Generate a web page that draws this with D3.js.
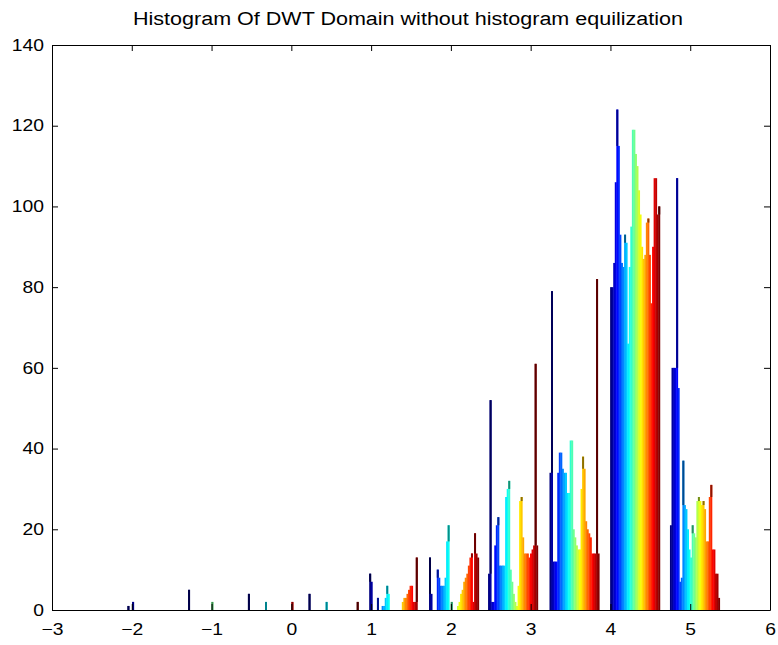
<!DOCTYPE html>
<html>
<head>
<meta charset="utf-8">
<script src="https://cdn.jsdelivr.net/npm/d3@7"></script>
<style>
  body { margin: 0; background: #fff; }
  svg text { font-family: "Liberation Sans", Arial, sans-serif; fill: #000; }
</style>
</head>
<body>
<svg id="chart" width="778" height="645"></svg>
<script>
const TITLE = 'Histogram Of DWT Domain without histogram equilization'

// hist() of a matrix: 10 bins, one bar per column inside each bin
const binCenters = [-1.74, -0.98, -0.23, 0.53, 1.29, 2.04, 2.78, 3.55, 4.31, 5.06]

const bin1 = [1,0,0,2,0,0,0,0,0,0,0,0,0,0,0,0,0,0,0,0,0,0,0,0,0,0,0,0,0,0,0,0]
const bin2 = [5,0,0,0,0,0,0,0,0,0,0,0,0,0,0,2,0,0,0,0,0,0,0,0,0,0,0,0,0,0,0,0]
const bin3 = [4,0,0,0,0,0,0,0,0,0,0,2,0,0,0,0,0,0,0,0,0,0,0,0,0,0,0,0,2,0,0,0]
const bin4 = [4,0,0,0,0,0,0,0,0,0,0,2,0,0,0,0,0,0,0,0,0,0,0,0,0,0,0,0,0,0,0,2]
const bin5 = [9,7,0,0,0,3,0,0,1,1,3,6,4,0,0,0,0,0,0,0,0,2,3,3,4,5,6,6,2,2,13,0]
const bin6 = [13,4,0,0,0,10,8,6,6,6,8,17,21,0,2,0,0,0,1,2,4,5,7,8,9,11,13,14,2,19,14,13]
const bin7 = [9,52,2,2,16,21,23,11,11,11,11,28,30,32,10,7,4,2,1,6,27,28,18,14,14,14,13,14,15,16,61,16]
const bin8 = [34,79,12,12,12,34,39,39,35,34,34,29,29,42,42,20,18,16,15,15,30,38,35,22,20,19,18,14,14,14,82,14]
const bin9 = [80,80,86,106,124,115,93,86,85,93,91,66,85,95,119,119,113,110,104,98,90,87,88,96,97,88,76,90,107,107,98,100]
const bin10 = [21,60,60,60,107,55,7,8,37,26,25,20,15,13,21,19,18,27,28,27,26,27,25,17,17,28,31,15,15,9,9,3]

const xTickValues = [-3, -2, -1, 0, 1, 2, 3, 4, 5, 6]
const yTickValues = [0, 20, 40, 60, 80, 100, 120, 140]

const counts = [bin1, bin2, bin3, bin4, bin5, bin6, bin7, bin8, bin9, bin10]

const PLOT = { left: 52, right: 770, top: 45, bottom: 610 }
const TICK = 6
const STRETCH = 1.17 // old matlab text renders wide

const svg = d3.select('#chart')

const x = d3.scaleLinear().domain([-3, 6]).range([PLOT.left, PLOT.right])
const y = d3.scaleLinear().domain([0, 140]).range([PLOT.bottom, PLOT.top])

const nSeries = bin1.length
const binWidth = binCenters[1] - binCenters[0]
const groupPx = x(0.82 * binWidth) - x(0)
const col = d3.scaleBand().domain(d3.range(nSeries)).range([-groupPx / 2, groupPx / 2])

// matlab jet colormap
function jet(t) {
  const c = v => Math.max(0, Math.min(1, v))
  const r = c(1.5 - Math.abs(4 * t - 3))
  const g = c(1.5 - Math.abs(4 * t - 2))
  const b = c(1.5 - Math.abs(4 * t - 1))
  return d3.rgb(r * 255, g * 255, b * 255)
}

const bars = counts.flatMap((c, k) => c.map((v, i) => ({
  k, i, v,
  side: Math.max(c[i - 1] || 0, c[i + 1] || 0)
}))).filter(d => d.v > 0)

const barX = d => x(binCenters[d.k]) + col(d.i) - 0.2
const barW = col.bandwidth() + 0.4

svg.append('g')
  .selectAll('rect')
  .data(bars)
  .join('rect')
  .attr('x', barX)
  .attr('width', barW)
  .attr('y', d => y(d.v))
  .attr('height', d => y(0) - y(d.v))
  .attr('fill', d => jet(d.i / (nSeries - 1)))

// thin spikes sticking out of a group look darker (black bar edges)
svg.append('g')
  .selectAll('rect')
  .data(bars.filter(d => d.v > d.side))
  .join('rect')
  .attr('x', barX)
  .attr('width', barW)
  .attr('y', d => y(d.v))
  .attr('height', d => y(d.side) - y(d.v))
  .attr('fill', d => d3.interpolateRgb(jet(d.i / (nSeries - 1)), '#000')(0.45))

// axes, ticks pointing inwards on all four sides
function styleAxis(g) {
  g.select('.domain').attr('stroke', '#000')
  g.selectAll('.tick line').attr('stroke', '#000')
  g.selectAll('.tick text')
    .attr('font-family', null)
    .style('font-size', '16.5px')
    .each(function () {
      const w = this.getComputedTextLength()
      if (w > 0) d3.select(this).attr('textLength', w * STRETCH).attr('lengthAdjust', 'spacingAndGlyphs')
    })
}

svg.append('g')
  .attr('transform', `translate(0,${PLOT.bottom})`)
  .call(d3.axisBottom(x).tickValues(xTickValues).tickSizeInner(-TICK).tickSizeOuter(0).tickPadding(13))
  .call(styleAxis)

svg.append('g')
  .attr('transform', `translate(0,${PLOT.top})`)
  .call(d3.axisTop(x).tickValues(xTickValues).tickSizeInner(-TICK).tickSizeOuter(0).tickFormat(''))
  .call(styleAxis)

svg.append('g')
  .attr('transform', `translate(${PLOT.left},0)`)
  .call(d3.axisLeft(y).tickValues(yTickValues).tickSizeInner(-TICK).tickSizeOuter(0).tickPadding(8))
  .call(styleAxis)

svg.append('g')
  .attr('transform', `translate(${PLOT.right},0)`)
  .call(d3.axisRight(y).tickValues(yTickValues).tickSizeInner(-TICK).tickSizeOuter(0).tickFormat(''))
  .call(styleAxis)

svg.append('text')
  .attr('x', (PLOT.left + PLOT.right) / 2 - 3)
  .attr('y', 25)
  .attr('text-anchor', 'middle')
  .attr('textLength', 550)
  .attr('lengthAdjust', 'spacingAndGlyphs')
  .style('font-size', '18px')
  .text(TITLE)
</script>
</body>
</html>
